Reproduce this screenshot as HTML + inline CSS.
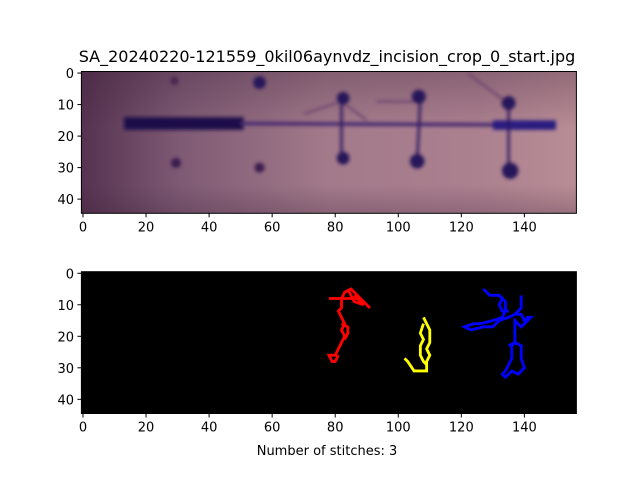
<!DOCTYPE html>
<html><head><meta charset="utf-8"><style>
body{margin:0;background:#fff;}
svg text{font-family:"DejaVu Sans","Liberation Sans",sans-serif;}
</style></head><body>
<svg width="640" height="480" viewBox="0 0 640 480" xmlns="http://www.w3.org/2000/svg">
<defs>
<linearGradient id="skin" x1="0" y1="0" x2="1" y2="0">
<stop offset="0" stop-color="#553250"/><stop offset="0.2" stop-color="#7e5a74"/>
<stop offset="0.5" stop-color="#a27a8a"/><stop offset="0.8" stop-color="#ab808f"/><stop offset="1" stop-color="#b98d95"/>
</linearGradient>
<linearGradient id="shade" x1="0" y1="0" x2="0" y2="1">
<stop offset="0" stop-color="#3a1e38" stop-opacity="0.3"/><stop offset="0.4" stop-color="#3a1e38" stop-opacity="0"/>
<stop offset="0.8" stop-color="#3a1e38" stop-opacity="0"/><stop offset="1" stop-color="#3a1e38" stop-opacity="0.25"/>
</linearGradient>
<filter id="blur"><feGaussianBlur stdDeviation="0.6"/></filter>
</defs>
<text x="327" y="62" font-size="16" text-anchor="middle">SA_20240220-121559_0kil06aynvdz_incision_crop_0_start.jpg</text>

<g>
<svg x="81.4" y="71.5" width="495" height="141.8" viewBox="-0.5 -0.5 157 45" preserveAspectRatio="none">
<rect x="-0.5" y="-0.5" width="157" height="45" fill="url(#skin)"/>
<rect x="-0.5" y="-0.5" width="157" height="45" fill="url(#shade)"/>
<g filter="url(#blur)" fill="#25125a" stroke="#2a1660">
<rect x="13" y="14" width="38" height="4" stroke="none" fill="#1c0c48"/>
<line x1="50" y1="16" x2="150" y2="16.5" stroke-width="1.2" stroke="#4a2a70"/>
<rect x="130" y="15" width="20" height="3" stroke="none" fill="#2a1a80"/>
<line x1="70" y1="13" x2="82" y2="9" stroke-width="0.6" stroke="#6a4070"/>
<line x1="82" y1="9" x2="90" y2="15" stroke-width="0.6" stroke="#6a4070"/>
<line x1="93" y1="9" x2="106" y2="9" stroke-width="0.6" stroke="#6a4070"/>
<line x1="122" y1="0" x2="134" y2="9" stroke-width="0.6" stroke="#6a4070"/>
<line x1="82" y1="8" x2="82" y2="27" stroke-width="0.8"/>
<line x1="107" y1="8" x2="106" y2="28" stroke-width="0.8"/>
<line x1="135" y1="10" x2="135" y2="31" stroke-width="0.8"/>
<circle cx="29" cy="2.5" r="1.3" stroke="none" fill="#4a2550"/>
<circle cx="29.5" cy="28.5" r="1.6" stroke="none" fill="#3a1a50"/>
<circle cx="56" cy="3" r="2" stroke="none"/>
<circle cx="56" cy="30" r="1.6" stroke="none" fill="#3a1a50"/>
<circle cx="82.5" cy="8" r="2" stroke="none"/>
<circle cx="82.5" cy="27" r="2" stroke="none"/>
<circle cx="106.5" cy="7.5" r="2.2" stroke="none"/>
<circle cx="106" cy="28" r="2.3" stroke="none"/>
<circle cx="135" cy="9.5" r="2.2" stroke="none"/>
<circle cx="135.5" cy="31" r="2.6" stroke="none"/>
</g>
</svg>
<rect x="81.4" y="71.5" width="495" height="141.8" fill="none" stroke="#000" stroke-width="1"/>
</g>

<g>
<svg x="81.4" y="271.7" width="495" height="141.8" viewBox="-0.5 -0.5 157 45" preserveAspectRatio="none">
<rect x="-0.5" y="-0.5" width="157" height="45" fill="#000"/>
<g fill="none" stroke-width="0.9" stroke-linejoin="miter">
<polyline stroke="#ff0000" points="78,8 88,8 91,11 88,8 85,5 83,6 82,8 82,11 81,12 82,14 83,16 82,18 83,20 82,22 81,24 80,26 78,26 79,28 80,28 81,26"/>
<polyline stroke="#ff0000" points="84,5 86,9 89,10 86,7"/>
<polyline stroke="#ff0000" points="82,16 84,17 84,19 83,21"/>
<polyline stroke="#ffff00" points="108,14 109,16 110,18 110,22 109,24 110,26 109,28 109,31 105,31 103,28 102,27"/>
<polyline stroke="#ffff00" points="108,16 107,19 108,21 107,23 107,26 108,28 109,29"/>
<polyline stroke="#0000ff" points="127,5 129,7 132,7 134,9 134,12 133,14 130,15 126,16 124,16 121,17 123,18 127,17 130,17 132,15 135,14 137,13 139,13 140,15 141,14 142,14 140,16 139,17 137,15 137,22 136,23 136,27 135,29 134,31 133,32 134,33 136,31 138,32 140,30 139,27 139,23 137,22 135,23"/>
<polyline stroke="#0000ff" points="139,7 139,11 137,13"/>
<polyline stroke="#0000ff" points="133,8 132,10 133,12 135,12"/>
</g>
</svg>
<rect x="81.4" y="271.7" width="495" height="141.8" fill="none" stroke="#000" stroke-width="1"/>
</g>

<g id="ticks" stroke="#000" stroke-width="1"></g>
<g id="ticklabels" font-size="13" fill="#000"></g>
<text x="327" y="455" font-size="13" text-anchor="middle">Number of stitches: 3</text>
</svg>
<script>
const xTicks=[0,20,40,60,80,100,120,140];
const yTicks=[0,10,20,30,40];
const axesTop=[71.5,271.7];
const ns="http://www.w3.org/2000/svg";
const tg=document.getElementById('ticks'), lg=document.getElementById('ticklabels');
const px=v=>81.4+(v+0.5)*495/157;
const py=(top,v)=>top+(v+0.5)*141.8/45;
axesTop.forEach(top=>{
  const bottom=top+141.8;
  xTicks.forEach(v=>{
    const l=document.createElementNS(ns,'line');
    
    
    l.setAttribute('x1',px(v));l.setAttribute('x2',px(v));l.setAttribute('y1',bottom);l.setAttribute('y2',bottom+4);tg.appendChild(l);
    const t=document.createElementNS(ns,'text');
    
    
    t.setAttribute('x',px(v));t.setAttribute('y',bottom+18);t.setAttribute('text-anchor','middle');t.textContent=v;lg.appendChild(t);
  });
  yTicks.forEach(v=>{
    const l=document.createElementNS(ns,'line');
    
    
    l.setAttribute('x1',77.4);l.setAttribute('x2',81.4);l.setAttribute('y1',py(top,v));l.setAttribute('y2',py(top,v));tg.appendChild(l);
    const t=document.createElementNS(ns,'text');
    
    
    t.setAttribute('x',74);t.setAttribute('y',py(top,v)+5);t.setAttribute('text-anchor','end');t.textContent=v;lg.appendChild(t);
  });
});
</script>
</body></html>
